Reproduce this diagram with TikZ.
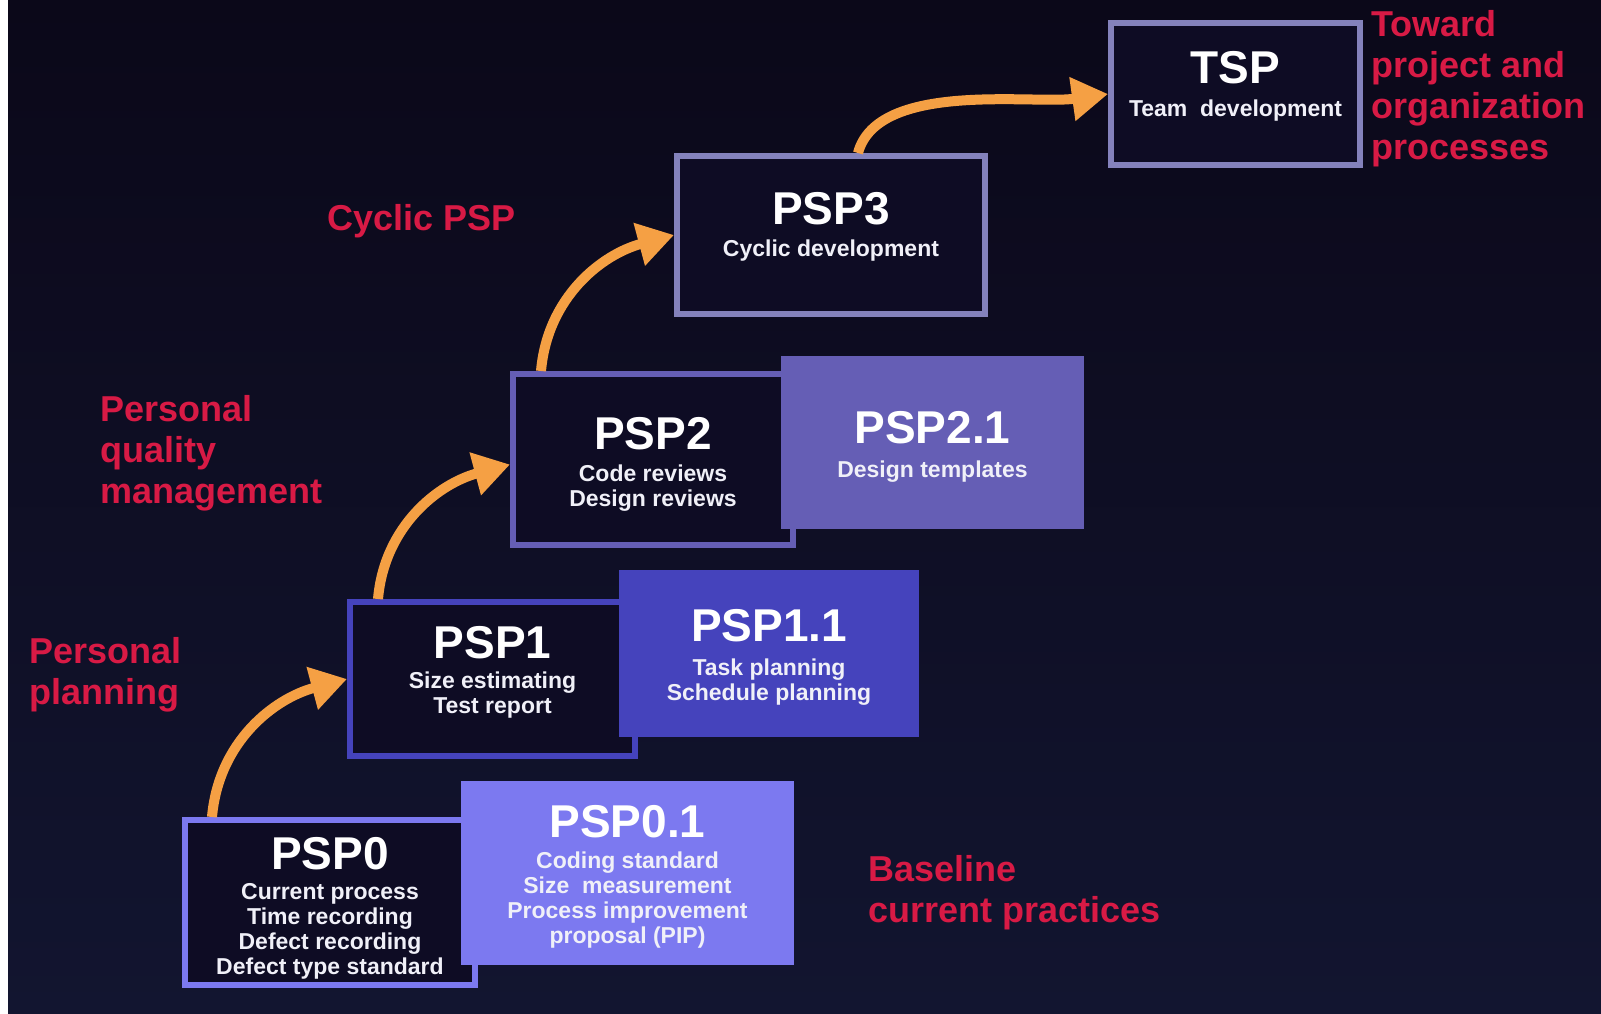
\documentclass[tikz,border=0pt]{standalone}
\usepackage{fontspec}
\setmainfont{Liberation Sans}
\usetikzlibrary{arrows.meta}
\definecolor{bgtop}{HTML}{0B0819}
\definecolor{bgbot}{HTML}{121530}
\definecolor{boxfill}{HTML}{0E0C24}
\definecolor{redlab}{HTML}{D81A45}
\definecolor{orangearr}{HTML}{F5A044}
\definecolor{cA}{HTML}{7C79F0}
\definecolor{cB}{HTML}{4543BC}
\definecolor{cC}{HTML}{655EB5}
\definecolor{cD}{HTML}{8482BC}
\definecolor{txt}{HTML}{F0F0F8}
\begin{document}
\begin{tikzpicture}[x=1pt,y=-1pt,
  darkbox/.style={draw=#1, fill=boxfill, line width=6pt, inner sep=0pt},
  lightbox/.style={fill=#1, draw=none, inner sep=0pt, outer sep=0pt},
  title/.style={text=white, inner sep=0pt, font=\fontsize{46}{50}\selectfont\bfseries},
  sub/.style={text=txt, inner sep=0pt, anchor=north, align=center, font=\fontsize{23}{25}\selectfont\bfseries},
  redlabel/.style={text=redlab, inner sep=0pt, anchor=north west, align=left, font=\fontsize{36}{41}\selectfont\bfseries},
  arr/.style={draw=orangearr, line width=10pt, -{Triangle[length=36pt,width=42pt]}}]
\useasboundingbox (0,0) rectangle (1601,1014);
\shade[top color=bgtop, bottom color=bgbot] (0,0) rectangle (1601,1014);
\fill[white] (0,0) rectangle (8,1014);

% boxes
\node[darkbox=cA, minimum width=290pt, minimum height=165pt] (psp0) at (330,902.5) {};
\node[lightbox=cA, minimum width=333pt, minimum height=184pt] (psp01) at (627.5,873) {};
\node[darkbox=cB, minimum width=285pt, minimum height=154pt] (psp1) at (492.5,679) {};
\node[lightbox=cB, minimum width=300pt, minimum height=167pt] (psp11) at (769,653.5) {};
\node[darkbox=cC, minimum width=280pt, minimum height=171pt] (psp2) at (653,459.5) {};
\node[lightbox=cC, minimum width=303pt, minimum height=173pt] (psp21) at (932.5,442.5) {};
\node[darkbox=cD, minimum width=308pt, minimum height=158pt] (psp3) at (831,235) {};
\node[darkbox=cD, minimum width=249pt, minimum height=142pt] (tsp) at (1235.5,94) {};

% box texts
\node[title] (t0) at (330,854) {PSP0};
\node[sub] (s0) at (330,883) {Current process\\Time recording\\Defect recording\\Defect type standard};
\node[title] (t01) at (627.5,822) {PSP0.1};
\node[sub] (s01) at (627.5,852) {Coding standard\\Size\ \ measurement\\Process improvement\\proposal (PIP)};
\node[title] (t1) at (492.5,643) {PSP1};
\node[sub] (s1) at (492.5,672) {Size estimating\\Test report};
\node[title] (t11) at (769,626) {PSP1.1};
\node[sub] (s11) at (769,659) {Task planning\\Schedule planning};
\node[title] (t2) at (653,434) {PSP2};
\node[sub] (s2) at (653,465) {Code reviews\\Design reviews};
\node[title] (t21) at (932.5,428) {PSP2.1};
\node[sub] (s21) at (932.5,461) {Design templates};
\node[title] (t3) at (831,209) {PSP3};
\node[sub] (s3) at (831,240) {Cyclic development};
\node[title] (tt) at (1235.5,68) {TSP};
\node[sub] (st) at (1235.5,100) {Team\ \ development};

% red labels
\node[redlabel] (ltoward) at (1371,10) {Toward\\project and\\organization\\processes};
\node[redlabel] (lcyclic) at (327,204) {Cyclic PSP};
\node[redlabel] (lquality) at (100,395) {Personal\\quality\\management};
\node[redlabel] (lplanning) at (29,637) {Personal\\planning};
\node[redlabel] (lbaseline) at (868,855) {Baseline\\current practices};

% arrows
\draw[arr] ([xshift=30pt]psp0.north west) to[out=85,in=195] (psp1.west);
\draw[arr] ([xshift=31pt]psp1.north west) to[out=85,in=195] ([yshift=-5pt]psp2.west);
\draw[arr] ([xshift=31pt]psp2.north west) to[out=85,in=195] (psp3.west);
\draw[arr] ([xshift=184pt]psp3.north west) to[out=75,in=188,looseness=0.75] (tsp.west);
\end{tikzpicture}
\end{document}
